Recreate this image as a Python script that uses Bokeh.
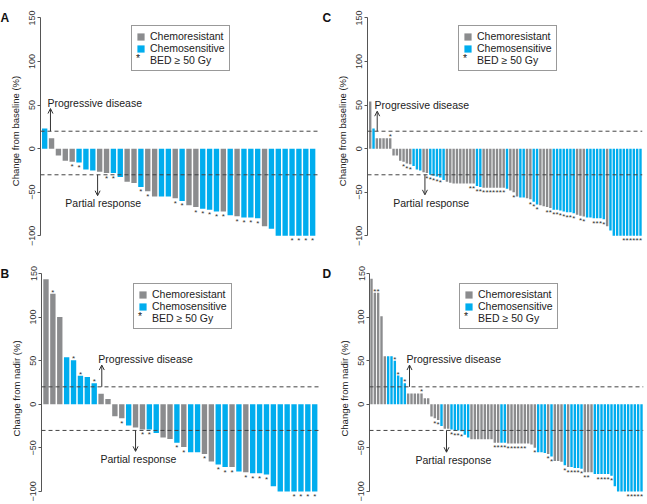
from bokeh.plotting import figure
from bokeh.models import (ColumnDataSource, CDSView, GroupFilter, Span, Label, Arrow,
                          OpenHead, Legend, LegendItem, FixedTicker, Range1d, Title)
from bokeh.layouts import column, row
from bokeh.embed import file_html
from bokeh.resources import INLINE
from bokeh.core.properties import value

FONT = "Liberation Sans"
GRAY = "#8b8c8e"
BLUE = "#00adee"
INK = "#333333"

yticks = [-100, -50, 0, 50, 100, 150]
legend_labels = ["Chemoresistant", "Chemosensitive", "BED \u2265 50 Gy"]
pd_text = "Progressive disease"
pr_text = "Partial response"

# ---- Panel A: change from baseline (40 patients) ----
a_values = [23, 12, -8, -14, -15, -16, -24, -25, -26.5, -28, -28, -32.5, -38, -39.5,
            -44, -49, -55, -55, -55, -57, -60, -65, -67, -69, -70, -72, -72, -76.5,
            -77.5, -79, -79, -80, -89, -92, -100, -100, -100, -100, -100, -100]
a_groups = "SRRRRSSSRRSSRRSRRSSRSRRSSSRSRSSSRSSSSSSS"
a_bed50 = [4, 5, 9, 10, 14, 15, 19, 20, 22, 23, 24, 25, 26, 28, 29, 30, 31, 36, 37, 38, 39]

# ---- Panel B: change from nadir (40 patients) ----
b_values = [143.5, 126.7, 100, 54, 50.4, 32.8, 31.3, 24, 12.2, 6, -13.7, -16, -24.4,
            -26.7, -29, -29, -33, -38, -39.7, -44, -49, -55, -55, -57, -65.6, -69, -72,
            -72, -77, -78, -79, -79, -80.5, -94, -100, -100, -100, -100, -100, -100]
b_groups = "RRRSSSSSRRRRSRRSSRRSRSSRRSSRSRSSSSSSSSSS"
b_bed50 = [1, 4, 5, 7, 11, 14, 15, 19, 20, 23, 25, 26, 27, 29, 30, 31, 32, 36, 37, 38, 39]

# ---- Panel C: change from baseline (82 lesions) ----
c_values = [54, 23, 12, 12, 12, 12, 12, -8, -8, -14, -15, -17, -18, -20, -24, -25, -27, -28,
            -30, -31, -32, -33, -36, -38, -39, -40, -40, -40, -40, -40, -40, -40, -43, -44,
            -45, -45, -45, -45, -45, -45, -45, -46, -48, -50, -55, -56, -56, -57, -58, -61,
            -64, -65, -66, -67, -68, -70, -70, -71, -72, -73, -73, -74, -76, -77, -78, -79,
            -79, -80, -80, -80, -81, -89, -94, -100, -100, -100, -100, -100, -100, -100,
            -100, -100]
c_groups = ("R" + "S" + "RRRRR" + "RRRRRR" + "SSS" + "RR" + "SSSSS" + "RR" + "RRRRRRR" + "SS"
            + "RRRRRRR" + "S" + "RRR" + "SS" + "RR" + "SS" + "RRRR" + "SSSSSSS" + "RRR"
            + "SSSSSS" + "R" + "S" + "SSSSSSSSS")
c_bed50 = [6, 10, 11, 12, 17, 18, 19, 20, 21, 30, 31, 32, 33, 34, 35, 36, 37, 38, 39, 40, 43,
           48, 49, 50, 53, 54, 55, 56, 57, 58, 59, 60, 61, 63, 64, 67, 68, 69, 70, 76, 77, 78,
           79, 80, 81]

# ---- Panel D: change from nadir (82 lesions) ----
d_values = [144, 128, 128, 101, 55, 55, 55, 50, 33, 31, 24, 12.5, 12.5, 12.5, 12.5, 12.5, 7, 7,
            -14, -16, -18, -25, -28, -28, -29, -30, -30, -31, -35, -38, -40, -40, -40, -40,
            -40, -40, -40, -44, -44, -44, -44, -45, -45, -45, -45, -45, -45, -45, -46, -50,
            -55, -55, -56, -57, -60, -65, -65, -66, -70, -72, -72, -73, -73, -74, -78, -78,
            -78, -80, -80, -80, -80, -80, -82, -94, -100, -100, -100, -100, -100, -100, -100,
            -100]
d_groups = ("RRRRR" + "SSSSSS" + "RRRRRRR" + "RRR" + "S" + "RR" + "SSSSSS" + "RRRRRRRRR" + "SS"
            + "RRRRRRRRR" + "SSS" + "R" + "S" + "RRR" + "S" + "R" + "SSSS" + "RRR"
            + "SSSSSSSSSSSSSSS")
d_bed50 = [1, 2, 7, 8, 10, 15, 19, 20, 24, 25, 26, 27, 37, 38, 39, 40, 41, 42, 43, 44, 45, 46,
           49, 53, 54, 58, 59, 60, 61, 62, 63, 64, 65, 68, 69, 70, 71, 72, 77, 78, 79, 80, 81]


def panel(values, groups, bed50, letter, ylabel, xr, yr, geom, pd, pr, legend_xy, bar_w):
    n = len(values)
    xs = list(range(n))
    src = ColumnDataSource(dict(x=xs, top=values, group=list(groups)))
    fl, fw, fr, bt, fh, bb = geom
    p = figure(frame_width=fw, frame_height=fh, min_border_left=fl, min_border_right=fr,
               min_border_top=bt, min_border_bottom=bb,
               x_range=Range1d(*xr), y_range=Range1d(*yr), x_axis_type=None,
               output_backend="svg", toolbar_location=None, outline_line_color=None)
    p.grid.visible = False

    # panel letter as a title in the top border, shifted to the canvas' left edge
    p.add_layout(Title(text=letter, align="left", offset=-fl, vertical_align="middle",
                       standoff=-20, text_font=FONT, text_font_size="12px",
                       text_font_style="bold", text_color="#111111"), "above")

    r_res = p.vbar(x="x", top="top", bottom=0, width=bar_w, source=src,
                   view=CDSView(filter=GroupFilter(column_name="group", group="R")),
                   fill_color=GRAY, line_color=None)
    r_sen = p.vbar(x="x", top="top", bottom=0, width=bar_w, source=src,
                   view=CDSView(filter=GroupFilter(column_name="group", group="S")),
                   fill_color=BLUE, line_color=None)

    flagged = set(bed50)
    neg = ColumnDataSource(dict(x=[i for i in xs if i in flagged and values[i] < 0],
                                y=[values[i] for i in xs if i in flagged and values[i] < 0]))
    pos = ColumnDataSource(dict(x=[i for i in xs if i in flagged and values[i] >= 0],
                                y=[values[i] for i in xs if i in flagged and values[i] >= 0]))
    p.text(x="x", y="y", text=value("*"), source=neg, text_align="center",
           text_baseline="top", y_offset=0.5, text_font=value(FONT),
           text_font_size="8px", text_color=INK)
    p.text(x="x", y="y", text=value("*"), source=pos, text_align="center",
           text_baseline="bottom", y_offset=3, text_font=value(FONT),
           text_font_size="8px", text_color=INK)

    for loc in (20, -30):
        p.add_layout(Span(location=loc, dimension="width", line_color="#444444",
                          line_dash="4 3", line_width=1))

    # annotations
    p.add_layout(Arrow(end=OpenHead(size=5, line_color=INK, line_width=1),
                       x_start=pd[1], y_start=20, x_end=pd[1], y_end=pd[2],
                       line_color=INK, line_width=1))
    p.add_layout(Label(x=pd[0], y=pd[3], text=pd_text, text_baseline="middle",
                       text_font=FONT, text_font_size="10.5px", text_color="#222222"))
    p.add_layout(Arrow(end=OpenHead(size=5, line_color=INK, line_width=1),
                       x_start=pr[1], y_start=-30, x_end=pr[1], y_end=pr[2],
                       line_color=INK, line_width=1))
    p.add_layout(Label(x=pr[0], y=pr[3], text=pr_text, text_baseline="middle",
                       text_font=FONT, text_font_size="10.5px", text_color="#222222"))

    # legend: boxed legend with colour swatches, plus a frameless one-row legend whose
    # "*" label sits in the swatch column of the third row
    r_star = p.scatter(x="x", y="y", source=neg, marker="asterisk", size=0,
                       line_color=INK, line_alpha=0)
    common = dict(orientation="vertical", glyph_height=9, label_height=12, spacing=0,
                  padding=4, margin=0, label_text_font=FONT, label_text_font_size="10.5px",
                  label_text_line_height=1.0, label_text_color="#222222")
    legend = Legend(items=[LegendItem(label=legend_labels[0], renderers=[r_res]),
                           LegendItem(label=legend_labels[1], renderers=[r_sen]),
                           LegendItem(label=legend_labels[2], renderers=[r_star])],
                    location=legend_xy, glyph_width=9, label_standoff=5,
                    border_line_color=INK, border_line_width=1,
                    background_fill_color="white", background_fill_alpha=1, **common)
    p.add_layout(legend)
    star_key = Legend(items=[LegendItem(label="*", renderers=[r_star])],
                      location=(legend_xy[0], legend_xy[1] + 7), glyph_width=1,
                      label_standoff=4, border_line_color=None, background_fill_alpha=0,
                      **common)
    p.add_layout(star_key)

    ax = p.yaxis[0]
    ax.ticker = FixedTicker(ticks=yticks)
    ax.bounds = (-100, 150)
    ax.major_label_orientation = "vertical"
    ax.major_label_text_font = FONT
    ax.major_label_text_font_size = "9px"
    ax.major_label_text_color = INK
    ax.major_label_standoff = 2
    ax.major_tick_out = 3
    ax.major_tick_in = 0
    ax.minor_tick_out = 0
    ax.minor_tick_in = 0
    ax.axis_line_color = "#555555"
    ax.major_tick_line_color = "#555555"
    ax.axis_label = ylabel
    ax.axis_label_text_font = FONT
    ax.axis_label_text_font_size = "9.5px"
    ax.axis_label_text_font_style = "normal"
    ax.axis_label_text_color = "#222222"
    ax.axis_label_standoff = 6
    return p


# geometry: (border_left, frame_width, border_right, border_top, frame_height, border_bottom)
pA = panel(a_values, a_groups, a_bed50, "A", "Change from baseline (%)",
           (-0.61, 39.85), (-110, 150.5), (40, 278, 4, 17, 227, 11),
           (0.4, 0.84, 46, 52.5), (3.0, 7.7, -54, -62), (91, 173), 0.78)
pC = panel(c_values, c_groups, c_bed50, "C", "Change from baseline (%)",
           (-0.81, 81.6), (-110, 150.5), (45, 275, 4, 17, 227, 11),
           (1.3, 2.1, 43, 50), (6.9, 16.4, -53, -62.5), (91, 173), 0.72)
pB = panel(b_values, b_groups, b_bed50, "B", "Change from nadir (%)",
           (-0.65, 39.84), (-113.8, 150), (41, 279, 2, 18, 230, 0),
           (7.6, 8.1, 45, 52), (7.9, 13.0, -54, -62.5), (92, 174), 0.78)
pD = panel(d_values, d_groups, d_bed50, "D", "Change from nadir (%)",
           (-0.6, 81.6), (-113.8, 150), (47, 274, 3, 18, 230, 0),
           (10.5, 11.4, 45, 52), (13.2, 22.5, -55, -64), (90, 174), 0.72)

layout = column(row(pA, pC), row(pB, pD))
open("out.html", "w").write(file_html(layout, INLINE))
